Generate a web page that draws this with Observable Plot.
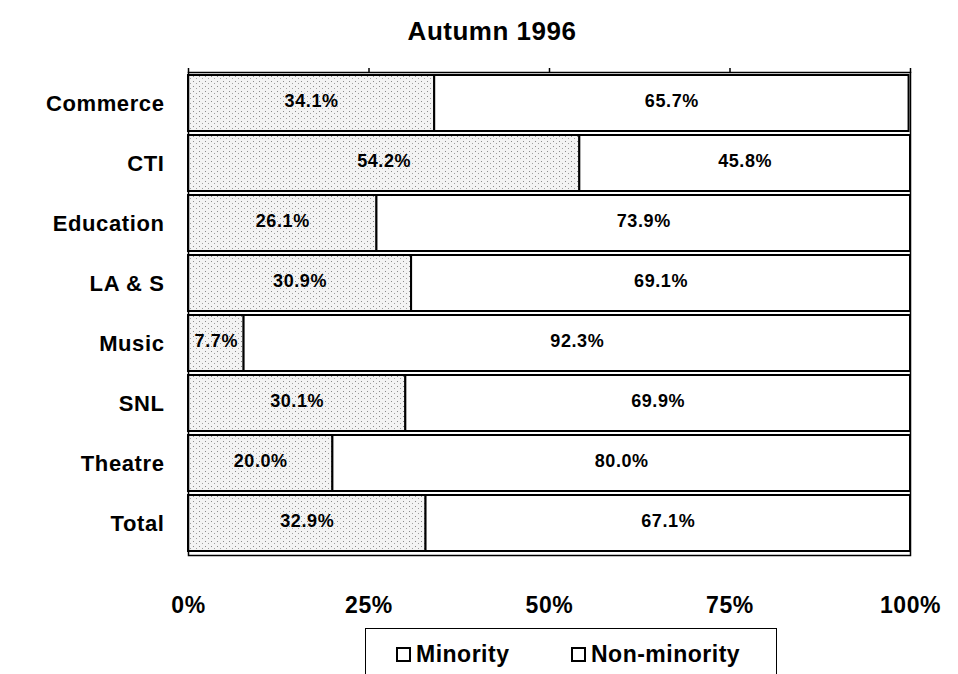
<!DOCTYPE html>
<html><head><meta charset="utf-8">
<script src="https://cdn.jsdelivr.net/npm/d3@7"></script>
<script src="https://cdn.jsdelivr.net/npm/@observablehq/plot@0.6"></script>
<style>
body{margin:0;background:#fff;font-family:"Liberation Sans",Arial,sans-serif;color:#000;}
#wrap{position:relative;width:958px;height:674px;overflow:hidden;}
#title{position:absolute;left:0;width:984px;top:16px;text-align:center;font-weight:bold;font-size:26px;letter-spacing:0.5px;}
#chart{position:absolute;left:0;top:50px;}
#legend{position:absolute;left:365px;top:628px;width:412px;height:60px;border:1.5px solid #000;box-sizing:border-box;font-weight:bold;font-size:23px;letter-spacing:0.5px;}
.item{position:absolute;top:12px;display:flex;align-items:center;}
.sw{width:15px;height:15px;border:2px solid #000;background:#fff;margin-right:5px;box-sizing:border-box;}
</style></head><body>
<div id="wrap">
<div id="title">Autumn 1996</div>
<div id="chart"></div>
<div id="legend"></div>
</div>
<script>
const categories = ["Commerce","CTI","Education","LA & S","Music","SNL","Theatre","Total"];
const minority = [34.1,54.2,26.1,30.9,7.7,30.1,20.0,32.9];
const nonMinority = [65.7,45.8,73.9,69.1,92.3,69.9,80.0,67.1];
const series = ["Minority","Non-minority"];
const xTicks = [0,25,50,75,100];

const rows = categories.flatMap((c,i)=>[
  {cat:c, group:series[0], value:minority[i]},
  {cat:c, group:series[1], value:nonMinority[i]}
]);

const svg = Plot.plot({
  width:958, height:580,
  marginLeft:188, marginRight:48, marginTop:22, marginBottom:75,
  x:{domain:[0,100], label:null},
  y:{domain:categories, paddingInner:0.06, paddingOuter:0.04, label:null},
  color:{domain:series, range:["url(#stip)","#ffffff"]},
  style:{fontFamily:"'Liberation Sans', Arial, sans-serif", color:"#000", background:"#fff"},
  marks:[
    Plot.barX(rows, Plot.stackX({x:"value", y:"cat", fill:"group", stroke:"#000", strokeWidth:2})),
    Plot.text(rows, Plot.stackX({x:"value", y:"cat", text:d=>d.value.toFixed(1)+"%", fontSize:18, fontWeight:"bold", dy:-2})),
    Plot.frame({strokeWidth:1.5}),
    Plot.axisX({anchor:"bottom", ticks:xTicks, tickFormat:d=>d+"%", tickSize:0, tickPadding:41, fontSize:23, fontWeight:"bold", label:null}),
    Plot.axisX({anchor:"top", ticks:xTicks, tickSize:5, tickFormat:()=>"", strokeWidth:1.5, label:null}),
    Plot.axisY({tickSize:0, tickPadding:24, fontSize:22, fontWeight:"bold", label:null})
  ]
});

const defs = d3.select(svg).insert("defs", ":first-child");
const pat = defs.append("pattern").attr("id","stip").attr("patternUnits","userSpaceOnUse").attr("width",6).attr("height",5);
pat.append("rect").attr("width",6).attr("height",5).attr("fill","#f3f3f3");
pat.append("rect").attr("x",1).attr("y",1).attr("width",1).attr("height",1).attr("fill","#8a8a8a");
pat.append("rect").attr("x",4).attr("y",3).attr("width",1).attr("height",1).attr("fill","#a0a0a0");
d3.select(svg).selectAll("text").style("letter-spacing","0.6px");
document.getElementById("chart").appendChild(svg);

const legend = d3.select("#legend");
const lx = [30, 205];
series.forEach((s,i)=>{
  const it = legend.append("div").attr("class","item").style("left", lx[i]+"px");
  it.append("div").attr("class","sw");
  it.append("span").text(s);
});
</script>
</body></html>
